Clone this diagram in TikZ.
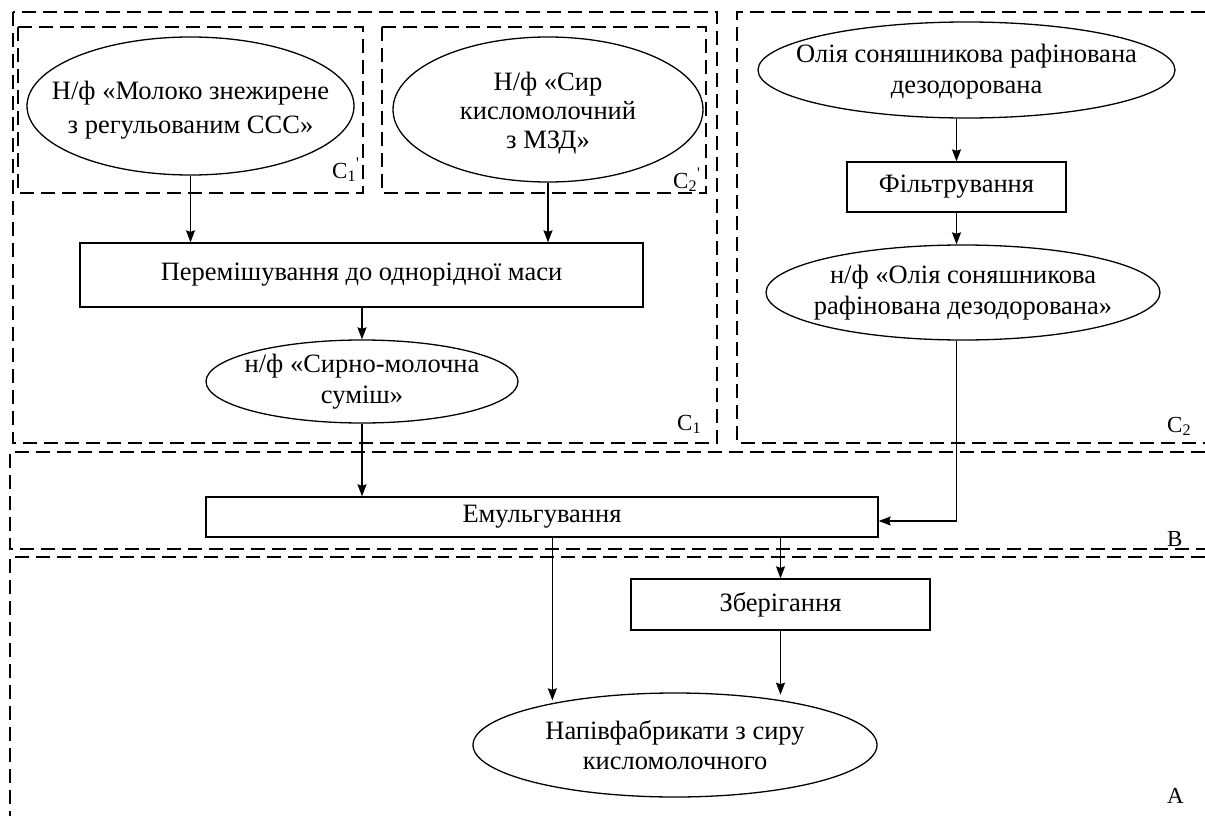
\documentclass[tikz,border=0pt]{standalone}
\usepackage{fontspec}
\setmainfont{Liberation Serif}
\usetikzlibrary{shapes.geometric,arrows.meta,calc}
\begin{document}
\begin{tikzpicture}[x=1pt,y=-1pt,
  lw/.style={line width=1.3pt},
  frame/.style={line width=1.3pt, dash pattern=on 14pt off 7pt},
  txt/.style={font=\fontsize{26.5}{31}\selectfont},
  oval/.style={ellipse, draw, lw, inner sep=0pt},
  ovaltext/.style={inner sep=0pt, align=center, txt},
  box/.style={rectangle, draw, lw, inner sep=0pt, align=center, txt},
  arr/.style={lw, -{Stealth[length=12pt,width=9pt,inset=1.5pt]}},
  lbl/.style={font=\fontsize{23}{28}\selectfont, inner sep=0pt, anchor=base west}]
\useasboundingbox (0,0) rectangle (1205,816);

% frames
\draw[frame] (13,12) rectangle (717,443);
\draw[frame] (18,27) rectangle (363,193);
\draw[frame] (382,27) rectangle (706,193);
\draw[frame] (1205,12) -- (737,12) -- (737,443) -- (1205,443);
\draw[frame] (1205,452) -- (10,452) -- (10,549) -- (1205,549);
\draw[frame] (1205,557) -- (10,557) -- (10,816);

% nodes
\node[oval, minimum width=327, minimum height=138] (e1) at (190.5,106) {};
\node[ovaltext, font=\fontsize{26.5}{34}\selectfont] (e1t) at ($(e1.center)+(0,4)$) {Н/ф «Молоко знежирене\\з регульованим ССС»};
\node[oval, minimum width=310, minimum height=145] (e2) at (548,109.5) {};
\node[ovaltext, font=\fontsize{26.5}{29}\selectfont] (e2t) at ($(e2.center)+(0,4)$) {Н/ф «Сир\\кисломолочний\\з МЗД»};
\node[box, minimum width=563, minimum height=64] (mix) at (361.5,275) {Перемішування до однорідної маси};
\node[oval, minimum width=312, minimum height=83] (e3) at (362,381.5) {};
\node[ovaltext] (e3t) at (e3.center) {н/ф «Сирно-молочна\\суміш»};
\node[oval, minimum width=417, minimum height=96] (oil) at (966.5,70) {};
\node[ovaltext] (oilt) at ($(oil.center)+(0,2)$) {Олія соняшникова рафінована\\дезодорована};
\node[box, minimum width=219, minimum height=50] (filt) at (956.5,187) {Фільтрування};
\node[oval, minimum width=394, minimum height=95] (oil2) at (963,292.5) {};
\node[ovaltext] (oil2t) at (oil2.center) {н/ф «Олія соняшникова\\рафінована дезодорована»};
\node[box, minimum width=672, minimum height=40] (emul) at (542,517) {Емульгування};
\node[box, minimum width=299, minimum height=51] (stor) at (780.5,604.5) {Зберігання};
\node[oval, minimum width=404, minimum height=104] (fin) at (675,745) {};
\node[ovaltext, font=\fontsize{26.5}{30}\selectfont] (fint) at (fin.center) {Напівфабрикати з сиру\\кисломолочного};

% labels
\node[lbl] (lc1a) at (332,178) {С\textsubscript{1}\textsuperscript{\textquotesingle}};
\node[lbl] (lc2a) at (673,188) {С\textsubscript{2}\textsuperscript{\textquotesingle}};
\node[lbl] (lc1) at (677,430) {С\textsubscript{1}};
\node[lbl] (lc2) at (1167,432) {С\textsubscript{2}};
\node[lbl] (lb) at (1167,546) {В};
\node[lbl] (la) at (1167,803) {А};

% connectors
\draw[arr] (e1.south) -- (e1.south |- mix.north);
\draw[arr] (e2.south) -- (e2.south |- mix.north);
\draw[arr] (e3.south |- mix.south) -- (e3.north);
\draw[arr] (e3.south) -- (e3.south |- emul.north);
\draw[arr] (filt.north |- oil.south) -- (filt.north);
\draw[arr] (filt.south) -- (filt.south |- oil2.north);
\coordinate (ein) at ($(emul.east)+(0,4)$);
\draw[arr] (filt.south |- oil2.south) |- (ein);
\coordinate (eo1) at ($(emul.south west)+(347,0)$);
\draw[arr] (eo1) -- (eo1 |- fin.north) -- ++(0,8);
\draw[arr] (stor.north |- emul.south) -- (stor.north);
\draw[arr] (stor.south) -- ++(0,64);
\end{tikzpicture}
\end{document}
